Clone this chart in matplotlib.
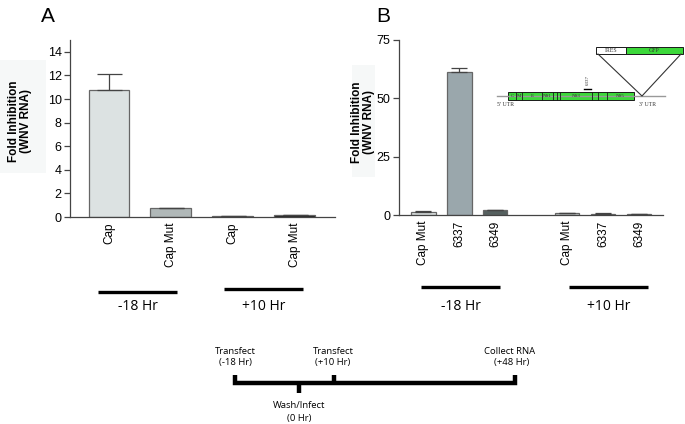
import matplotlib
matplotlib.use("Agg")
import matplotlib.pyplot as plt
from matplotlib.patches import Rectangle

plt.rcParams['font.family'] = ['Liberation Sans', 'DejaVu Sans']

# ---- data ----
a_labels = ["Cap", "Cap Mut", "Cap", "Cap Mut"]
a_values = [10.8, 0.8, 0.1, 0.15]
a_err = [1.35, 0.0, 0.0, 0.0]
a_colors = ["#dce2e2", "#b0b8b8", "#6f7777", "#151515"]

b_labels = ["Cap Mut", "6337", "6349", "Cap Mut", "6337", "6349"]
b_values = [1.5, 61.3, 2.0, 0.8, 0.6, 0.4]
b_err = [0.2, 1.9, 0.3, 0.1, 0.15, 0.1]
b_colors = ["#dde3e3", "#9aa7ac", "#55605f", "#c9d0d0", "#a9b3b3", "#8a9494"]
b_pos = [0, 1, 2, 4, 5, 6]

group_labels = ["-18 Hr", "+10 Hr"]
genome_segments = ["C", "M", "E", "NS1", "", "", "NS3", "", "", "NS5"]

W, H = 685, 424
fig = plt.figure(figsize=(W / 100, H / 100), dpi=100)


def px_axes(x0, y0, x1, y1):
    return fig.add_axes([x0 / W, 1 - y1 / H, (x1 - x0) / W, (y1 - y0) / H])


def style(ax):
    for s in ["top", "right"]:
        ax.spines[s].set_visible(False)
    for s in ["left", "bottom"]:
        ax.spines[s].set_color("#444444")
        ax.spines[s].set_linewidth(0.9)
    ax.tick_params(axis="y", length=4, width=0.9, color="#444444", labelsize=9, pad=2)
    ax.tick_params(axis="x", length=0, labelsize=8.5, pad=4)


# ---- Panel A ----
axA = px_axes(70, 40, 335, 217)
a_pos = list(range(len(a_values)))
axA.bar(a_pos, a_values, width=0.66, color=a_colors, edgecolor="#666666", linewidth=0.9)
axA.errorbar(a_pos, a_values, yerr=[[0] * 4, a_err], fmt="none", ecolor="#444444",
             elinewidth=0.9, capsize=9, capthick=0.9)
axA.set_ylim(0, 15)
axA.set_xlim(-0.63, 3.65)
axA.set_yticks([0, 2, 4, 6, 8, 10, 12, 14])
axA.set_xticks(a_pos)
axA.set_xticklabels(a_labels, rotation=90)
style(axA)

# ---- Panel B ----
axB = px_axes(399, 40, 663, 215)
axB.bar(b_pos, b_values, width=0.68, color=b_colors, edgecolor="#666666", linewidth=0.9)
axB.errorbar(b_pos, b_values, yerr=[[0] * 6, b_err], fmt="none", ecolor="#444444",
             elinewidth=0.9, capsize=6, capthick=0.9)
axB.set_ylim(0, 75)
axB.set_xlim(-0.68, 6.67)
axB.set_yticks([0, 25, 50, 75])
axB.set_xticks(b_pos)
axB.set_xticklabels(b_labels, rotation=90)
style(axB)

# ---- overlay in pixel coordinates ----
ov = fig.add_axes([0, 0, 1, 1], zorder=-1)
ov.set_xlim(0, W)
ov.set_ylim(H, 0)
ov.axis("off")

# faint boxes behind y labels
ov.add_patch(Rectangle((0, 60), 46, 113, color="#f6f8f8", lw=0))
ov.add_patch(Rectangle((352, 65), 23, 112, color="#f6f8f8", lw=0))

ov2 = fig.add_axes([0, 0, 1, 1], zorder=5)
ov2.set_xlim(0, W)
ov2.set_ylim(H, 0)
ov2.axis("off")
ov2.patch.set_alpha(0)

ylab = "Fold Inhibition\n(WNV RNA)"
ov2.text(20, 121, ylab, fontsize=8.5, fontweight="bold", rotation=90, ha="center",
         va="center", multialignment="center", linespacing=1.0)
ov2.text(363, 122, ylab, fontsize=8.5, fontweight="bold", rotation=90, ha="center",
         va="center", multialignment="center", linespacing=1.0)

ov2.text(48, 17, "A", fontsize=15, ha="center", va="center")
ov2.text(383, 17, "B", fontsize=15, ha="center", va="center")

# group underlines
hr_font = dict(fontsize=10, ha="center", va="center", family=["Open Sans", "DejaVu Sans"])
for (x0, x1, y), lab in zip([(98, 177, 292), (224, 303, 289)], group_labels):
    ov2.plot([x0, x1], [y, y], color="black", lw=2.4, solid_capstyle="butt")
    ov2.text((x0 + x1) / 2, 307, lab, **hr_font)
for (x0, x1, y), lab in zip([(421, 500, 287), (569, 648, 287)], group_labels):
    ov2.plot([x0, x1], [y, y], color="black", lw=2.4, solid_capstyle="butt")
    ov2.text((x0 + x1) / 2, 307, lab, **hr_font)

# timeline
tl_font = dict(fontsize=6.8, ha="center", va="center", family=["Open Sans", "DejaVu Sans"])
ov2.plot([235, 235, 515, 515], [375, 383, 383, 375], color="black", lw=3.2,
         solid_joinstyle="miter", solid_capstyle="butt")
ov2.plot([334, 334], [375, 383], color="black", lw=3.2, solid_capstyle="butt")
ov2.plot([299, 299], [383, 393], color="black", lw=3.2, solid_capstyle="butt")
ov2.text(235, 351, "Transfect", **tl_font)
ov2.text(235, 363, "(-18 Hr)", **tl_font)
ov2.text(333, 351, "Transfect", **tl_font)
ov2.text(333, 363, "(+10 Hr)", **tl_font)
ov2.text(510, 351, "Collect RNA", **tl_font)
ov2.text(512, 363, "(+48 Hr)", **tl_font)
ov2.text(299, 406, "Wash/Infect", **tl_font)
ov2.text(299, 419, "(0 Hr)", **tl_font)

# genome diagram
green = "#3cd83a"
serif = dict(family=["Liberation Serif", "DejaVu Serif"], color="#333333")
ov2.plot([497, 665], [96, 96], color="#999999", lw=1.0)
bounds = [508, 516, 522, 542, 553, 557, 560, 592, 598, 607, 634]
ov2.add_patch(Rectangle((508, 92), 634 - 508, 8, facecolor=green, edgecolor="#1a1a1a", lw=0.7))
for b in bounds[1:-1]:
    ov2.plot([b, b], [92, 100], color="#1a1a1a", lw=0.6)
for i, name in enumerate(genome_segments):
    if name:
        ov2.text((bounds[i] + bounds[i + 1]) / 2, 96.3, name, fontsize=3.6, ha="center",
                 va="center", **serif)
ov2.text(497, 105, "5' UTR", fontsize=4.2, ha="left", va="center", **serif)
ov2.text(648, 105, "3' UTR", fontsize=4.2, ha="center", va="center", **serif)
ov2.plot([584, 591], [89, 89], color="black", lw=1.0)
ov2.text(587.5, 80, "6337", fontsize=3.6, rotation=90, ha="center", va="center", **serif)
# IRES-GFP insert
ov2.add_patch(Rectangle((596, 47), 30, 7, facecolor="white", edgecolor="#1a1a1a", lw=0.7))
ov2.add_patch(Rectangle((626, 47), 57, 7, facecolor=green, edgecolor="#1a1a1a", lw=0.7))
ov2.text(611, 50.5, "IRES", fontsize=4.2, ha="center", va="center", **serif)
ov2.text(654, 50.5, "GFP", fontsize=4.2, ha="center", va="center", **serif)
ov2.plot([598, 642, 681], [54, 96, 54], color="#333333", lw=0.8)

fig.savefig("out.png", dpi=100)
